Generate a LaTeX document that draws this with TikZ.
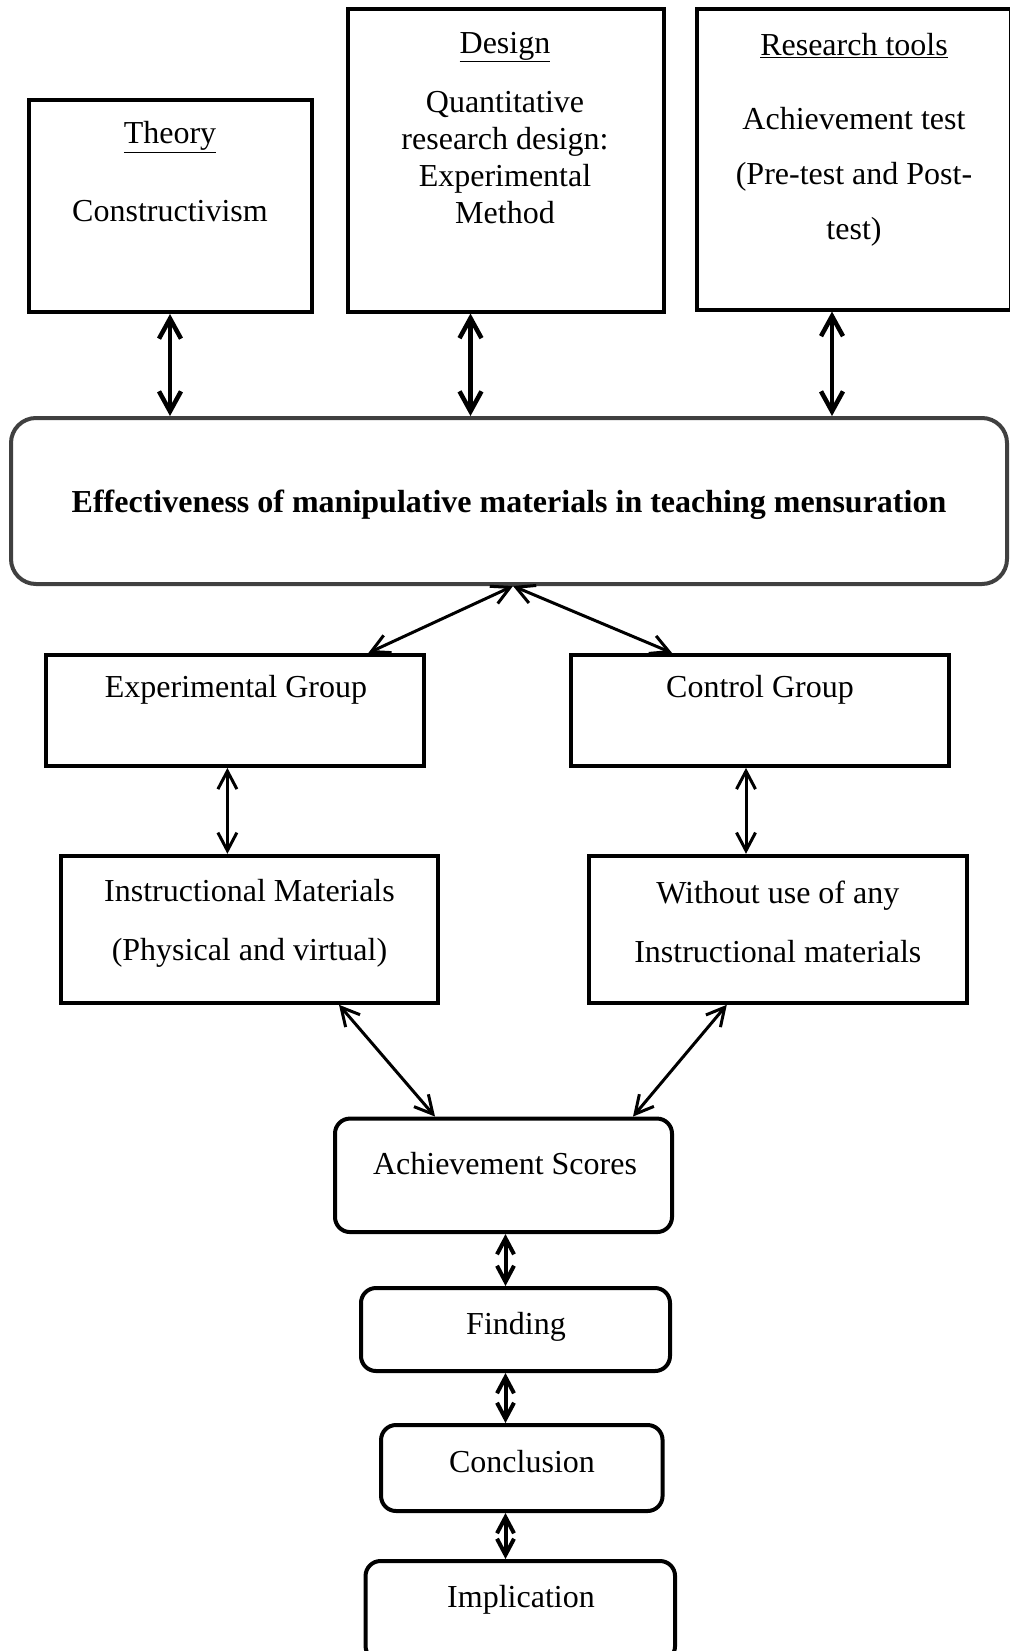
\documentclass[tikz,border=0pt]{standalone}
\usepackage{fontspec}
\setmainfont{Liberation Serif}
\usetikzlibrary{arrows.meta}
\definecolor{framegray}{HTML}{404040}

\begin{document}
\begin{tikzpicture}[
    x=1pt, y=-1pt,
    font=\fontsize{32}{37}\selectfont,
    % --- node styles ---
    topbox/.style={rectangle, draw=black, line width=4pt, inner sep=0pt},
    mainbox/.style={
        rectangle, rounded corners=25pt, draw=framegray, line width=4pt,
        inner sep=0pt, text depth=0pt, font=\fontsize{32}{37}\selectfont\bfseries
    },
    groupbox/.style={rectangle, draw=black, line width=4pt, inner sep=0pt},
    stepbox/.style={rectangle, rounded corners=15pt, draw=black, line width=4pt, inner sep=0pt},
    boxtext/.style={align=center, inner sep=0pt},
    % --- arrow styles ---
    toparrow/.style={<->, >={Straight Barb[length=20pt, width=22pt]}, line width=4.5pt},
    midarrow/.style={<->, >={Straight Barb[length=18pt, width=19pt]}, line width=3pt},
    steparrow/.style={<->, >={Straight Barb[length=16pt, width=17pt]}, line width=4pt},
]
\useasboundingbox (0,0) rectangle (1009,1651);

% ===== TOP ROW =====
\node[topbox, minimum width=283pt, minimum height=212pt] (theory) at (170,206) {};
\node[boxtext] (theoryhead) at (170,137) {\underline{Theory}};
\node[boxtext] (theorybody) at (170,211) {Constructivism};

\node[topbox, minimum width=316pt, minimum height=302pt] (design) at (505.5,160.5) {};
\node[boxtext] (designhead) at (505,47) {\underline{Design}};
\node[boxtext] (designbody) at (505,158) {Quantitative\\research design:\\Experimental\\Method};

\node[topbox, minimum width=314pt, minimum height=300pt] (tools) at (854,159.5) {};
\node[boxtext] (toolshead) at (854,46) {\underline{Research tools}};
\node[boxtext, font=\fontsize{32}{55}\selectfont] (toolsbody) at (854,177)
    {Achievement test\\(Pre-test and Post-\\test)};

% ===== MAIN TOPIC =====
\node[mainbox, minimum width=996pt, minimum height=166pt] (main) at (509,501)
    {Effectiveness of manipulative materials in teaching mensuration};

\draw[toparrow] (theory.south) -- (theory.south |- main.north);
\coordinate (designfoot) at ([xshift=-35pt]design.south);
\draw[toparrow] (designfoot) -- (designfoot |- main.north);
\coordinate (toolsfoot) at ([xshift=-22pt]tools.south);
\draw[toparrow] (toolsfoot) -- (toolsfoot |- main.north);

% ===== GROUPS =====
\node[groupbox, minimum width=378pt, minimum height=111pt] (expgroup) at (235.4,710.4) {};
\node[boxtext] (exptext) at (236,690) {Experimental Group};

\node[groupbox, minimum width=378pt, minimum height=111pt] (ctrlgroup) at (760,710.4) {};
\node[boxtext] (ctrltext) at (760,690) {Control Group};

\coordinate (mainfoot) at ([xshift=4pt]main.south);
\draw[midarrow] (mainfoot) -- ([xshift=133pt]expgroup.north);
\draw[midarrow] (mainfoot) -- ([xshift=-88pt]ctrlgroup.north);

% ===== MATERIALS =====
\node[groupbox, minimum width=377pt, minimum height=147pt] (instr) at (249.5,929.3) {};
\node[boxtext, font=\fontsize{32}{59}\selectfont] (instrtext) at (249.5,923)
    {Instructional Materials\\(Physical and virtual)};

\node[groupbox, minimum width=378pt, minimum height=147pt] (without) at (777.8,929.3) {};
\node[boxtext, font=\fontsize{32}{59}\selectfont] (withouttext) at (777.8,921.5)
    {Without use of any\\Instructional materials};

\coordinate (expfoot) at ([xshift=-8pt]expgroup.south);
\draw[midarrow] (expfoot) -- (expfoot |- instr.north);
\coordinate (ctrlfoot) at ([xshift=-14pt]ctrlgroup.south);
\draw[midarrow] (ctrlfoot) -- (ctrlfoot |- without.north);

% ===== OUTCOMES =====
\node[stepbox, minimum width=337pt, minimum height=113.5pt] (ach) at (503.5,1175.3) {};
\node[boxtext] (achtext) at (505,1164) {Achievement Scores};

\draw[midarrow] ([xshift=89.5pt]instr.south) -- ([xshift=-68.5pt]ach.north);
\draw[midarrow] ([xshift=-51pt]without.south) -- ([xshift=129.5pt]ach.north);

\node[stepbox, minimum width=309pt, minimum height=83pt] (finding) at (515.5,1329.5) {};
\node[boxtext] (findingtext) at (516,1327) {Finding};

\node[stepbox, minimum width=281.5pt, minimum height=86pt] (concl) at (521.8,1468) {};
\node[boxtext] (concltext) at (522,1462) {Conclusion};

\node[stepbox, minimum width=309.5pt, minimum height=100pt] (impl) at (520.3,1611) {};
\node[boxtext] (impltext) at (521,1600) {Implication};

\coordinate (achfoot) at ([xshift=2pt]ach.south);
\draw[steparrow] (achfoot) -- (achfoot |- finding.north);
\draw[steparrow] (achfoot |- finding.south) -- (achfoot |- concl.north);
\draw[steparrow] (achfoot |- concl.south) -- (achfoot |- impl.north);

\end{tikzpicture}
\end{document}
